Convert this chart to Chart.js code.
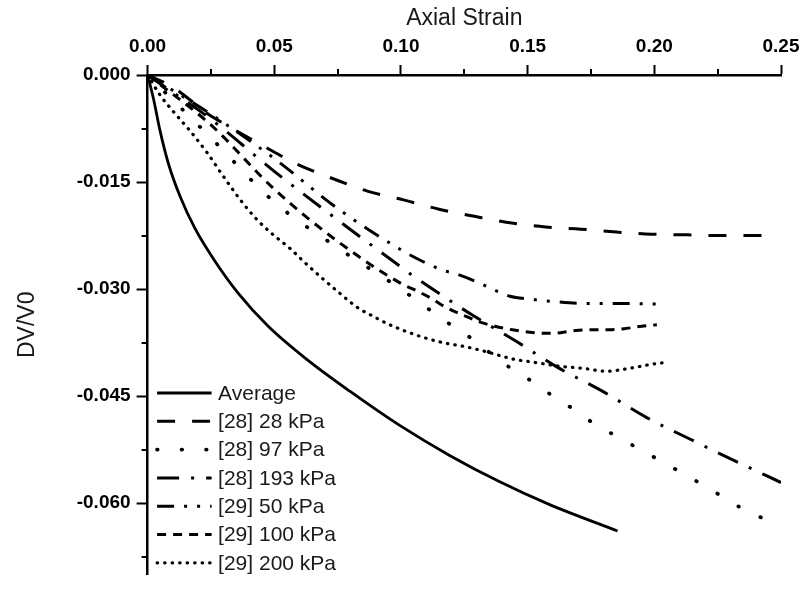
<!DOCTYPE html>
<html>
<head>
<meta charset="utf-8">
<script src="https://cdn.jsdelivr.net/npm/chart.js@4.4.1/dist/chart.umd.min.js"></script>
<style>
  html, body { margin: 0; padding: 0; background: #fff; }
  #wrap { width: 808px; height: 592px; position: relative; }
</style>
</head>
<body>
<div id="wrap"><canvas id="chart"></canvas></div>
<script>
(function () {
  'use strict';

  // axis ticks
  var xTicks = [0, 0.05, 0.10, 0.15, 0.20, 0.25];
  var xMinor = [0.025, 0.075, 0.125, 0.175, 0.225];
  var yTicks = [0, -0.015, -0.030, -0.045, -0.060];
  var yMinor = [-0.0075, -0.0225, -0.0375, -0.0525, -0.0675];

  var seriesNames = ['Average', '[28] 28 kPa', '[28] 97 kPa', '[28] 193 kPa', '[29] 50 kPa', '[29] 100 kPa', '[29] 200 kPa'];

  // Average
  var avgStrain = [0, 0.0023, 0.0049, 0.0082, 0.0128, 0.0187, 0.0266, 0.0358, 0.0476, 0.0627, 0.0798, 0.0995, 0.1192, 0.1390, 0.1587, 0.1855];
  var avgDV = [0, -0.0033, -0.0078, -0.0124, -0.0170, -0.0215, -0.0261, -0.0306, -0.0352, -0.0398, -0.0443, -0.0491, -0.0533, -0.0570, -0.0602, -0.0639];

  // [28] 28 kPa
  var k28Strain = [0, 0.010, 0.024, 0.031, 0.045, 0.059, 0.073, 0.087, 0.101, 0.115, 0.129, 0.143, 0.157, 0.171, 0.185, 0.199, 0.213, 0.227, 0.245];
  var k28DV = [0, -0.0017, -0.0055, -0.0070, -0.0098, -0.0125, -0.0145, -0.0163, -0.0175, -0.0188, -0.0198, -0.0207, -0.0213, -0.0216, -0.0220, -0.0223, -0.0224, -0.0225, -0.0225];

  // [28] 97 kPa
  var k97Strain = [0, 0.025, 0.050, 0.075, 0.100, 0.109, 0.118, 0.127, 0.135, 0.143, 0.152, 0.160, 0.168, 0.176, 0.185, 0.219, 0.227, 0.235, 0.244];
  var k97DV = [0, -0.0088, -0.0178, -0.0242, -0.0300, -0.0323, -0.0346, -0.0367, -0.0389, -0.0410, -0.0430, -0.0450, -0.0468, -0.0488, -0.0506, -0.0574, -0.0591, -0.0608, -0.0623];

  // [28] 193 kPa
  var k193Strain = [0, 0.025, 0.050, 0.075, 0.100, 0.105, 0.118, 0.128, 0.145, 0.162, 0.180, 0.197, 0.214, 0.232, 0.250];
  var k193DV = [0, -0.0062, -0.0135, -0.0203, -0.0269, -0.0282, -0.0313, -0.0336, -0.0372, -0.0410, -0.0444, -0.0480, -0.0510, -0.0541, -0.0571];

  // [29] 50 kPa
  var k50Strain = [0, 0.025, 0.050, 0.075, 0.101, 0.109, 0.116, 0.122, 0.130, 0.138, 0.143, 0.151, 0.159, 0.172, 0.186, 0.201];
  var k50DV = [0, -0.0055, -0.0117, -0.0187, -0.0247, -0.0262, -0.0273, -0.0279, -0.0290, -0.0303, -0.0310, -0.0314, -0.0317, -0.0320, -0.0320, -0.0321];

  // [29] 100 kPa
  var k100Strain = [0, 0.025, 0.050, 0.075, 0.100, 0.106, 0.112, 0.118, 0.125, 0.131, 0.137, 0.144, 0.150, 0.157, 0.163, 0.169, 0.176, 0.182, 0.189, 0.195, 0.201];
  var k100DV = [0, -0.0070, -0.0160, -0.0233, -0.0292, -0.0302, -0.0313, -0.0326, -0.0337, -0.0346, -0.0352, -0.0357, -0.0360, -0.0362, -0.0361, -0.0358, -0.0357, -0.0357, -0.0355, -0.0352, -0.0350];

  // [29] 200 kPa
  var k200Strain = [0, 0.0049, 0.0101, 0.0167, 0.0233, 0.0299, 0.0364, 0.0430, 0.0496, 0.0562, 0.0627, 0.0693, 0.0759, 0.0825, 0.0890, 0.0956, 0.1074, 0.1166, 0.1258, 0.1350, 0.1442, 0.1534, 0.1626, 0.1718, 0.1810, 0.1902, 0.1994, 0.2040];
  var k200DV = [0, -0.0028, -0.0051, -0.0078, -0.0108, -0.0142, -0.0174, -0.0202, -0.0224, -0.0243, -0.0265, -0.0286, -0.0306, -0.0325, -0.0338, -0.0350, -0.0366, -0.0375, -0.0381, -0.0389, -0.0398, -0.0403, -0.0408, -0.0411, -0.0415, -0.0411, -0.0405, -0.0403];

  var fontFamily = '"Liberation Sans", Arial, sans-serif';

  var lineStyles = [
    { width: 2.8, dash: [], cap: 'butt' },
    { width: 3, dash: [18, 17], cap: 'butt' },
    { width: 3.8, dash: [0.5, 24], cap: 'round' },
    { width: 3, dash: [22, 12, 3, 12], cap: 'butt' },
    { width: 3, dash: [17, 10, 3, 10, 3, 10], cap: 'butt' },
    { width: 3, dash: [9, 7], cap: 'butt' },
    { width: 3.2, dash: [0.5, 7], cap: 'round' }
  ];

  function pairs(xs, ys) {
    return xs.map(function (x, i) { return { x: x, y: ys[i] }; });
  }

  var seriesData = [
    pairs(avgStrain, avgDV),
    pairs(k28Strain, k28DV),
    pairs(k97Strain, k97DV),
    pairs(k193Strain, k193DV),
    pairs(k50Strain, k50DV),
    pairs(k100Strain, k100DV),
    pairs(k200Strain, k200DV)
  ];

  var datasets = seriesData.map(function (d, i) {
    var st = lineStyles[i];
    return {
      label: seriesNames[i],
      data: d,
      showLine: true,
      borderColor: '#000',
      backgroundColor: '#000',
      borderWidth: st.width,
      borderDash: st.dash,
      borderCapStyle: st.cap,
      cubicInterpolationMode: 'monotone',
      pointRadius: 0,
      fill: false
    };
  });

  // minor ticks + in-plot legend
  var extras = {
    id: 'extras',
    afterDraw: function (chart) {
      var ctx = chart.ctx;
      var area = chart.chartArea;
      var xs = chart.scales.x;
      var ys = chart.scales.y;
      ctx.save();
      ctx.strokeStyle = '#000';
      ctx.lineWidth = 2;
      ctx.beginPath();
      xMinor.forEach(function (v) {
        var px = Math.round(xs.getPixelForValue(v));
        ctx.moveTo(px, area.top - 6);
        ctx.lineTo(px, area.top);
      });
      yMinor.forEach(function (v) {
        var py = Math.round(ys.getPixelForValue(v));
        ctx.moveTo(area.left - 6, py);
        ctx.lineTo(area.left, py);
      });
      ctx.stroke();

      var x0 = area.left + 9.5;
      var x1 = area.left + 64;
      var rowTop = area.top + 318;
      var rowStep = 28.3;
      ctx.font = '21px ' + fontFamily;
      ctx.textBaseline = 'middle';
      ctx.textAlign = 'left';
      chart.data.datasets.forEach(function (ds, i) {
        var y = rowTop + i * rowStep;
        ctx.beginPath();
        ctx.lineWidth = ds.borderWidth;
        ctx.lineCap = ds.borderCapStyle;
        ctx.setLineDash(ds.borderDash);
        ctx.moveTo(x0, y);
        ctx.lineTo(x1, y);
        ctx.stroke();
        ctx.setLineDash([]);
        ctx.fillStyle = '#1a1a1a';
        ctx.fillText(ds.label, area.left + 70.5, y + 1);
      });
      ctx.restore();
    }
  };

  new Chart(document.getElementById('chart'), {
    type: 'scatter',
    data: { datasets: datasets },
    options: {
      responsive: true,
      maintainAspectRatio: false,
      animation: false,
      layout: { padding: { left: 0, top: 0, right: 27, bottom: 5 } },
      plugins: { legend: { display: false }, tooltip: { enabled: false } },
      scales: {
        x: {
          type: 'linear',
          position: 'top',
          min: 0,
          max: 0.25,
          afterBuildTicks: function (s) { s.ticks = xTicks.map(function (v) { return { value: v }; }); },
          afterFit: function (s) { s.height = 75; },
          ticks: {
            autoSkip: false,
            maxRotation: 0,
            padding: 7,
            color: '#000',
            font: { family: fontFamily, size: 19, weight: 'bold' },
            callback: function (v) { return Number(v).toFixed(2); }
          },
          grid: { drawOnChartArea: false, drawTicks: true, tickLength: 10, tickWidth: 2, tickColor: '#000' },
          border: { display: true, color: '#000', width: 2.5 },
          title: { display: true, text: 'Axial Strain', color: '#1a1a1a', font: { family: fontFamily, size: 23 }, padding: { top: 5, bottom: 0 } }
        },
        y: {
          type: 'linear',
          position: 'left',
          min: -0.070,
          max: 0,
          afterBuildTicks: function (s) { s.ticks = yTicks.map(function (v) { return { value: v }; }); },
          afterFit: function (s) { s.width = 147.6; },
          ticks: {
            autoSkip: false,
            padding: 6,
            color: '#000',
            font: { family: fontFamily, size: 19, weight: 'bold' },
            callback: function (v) { return Number(v).toFixed(3); }
          },
          grid: { drawOnChartArea: false, drawTicks: true, tickLength: 11, tickWidth: 2, tickColor: '#000' },
          border: { display: true, color: '#000', width: 2.5 },
          title: { display: true, text: 'DV/V0', color: '#1a1a1a', font: { family: fontFamily, size: 23 }, padding: { top: 14, bottom: 0 } }
        }
      }
    },
    plugins: [extras]
  });
})();
</script>
</body>
</html>
